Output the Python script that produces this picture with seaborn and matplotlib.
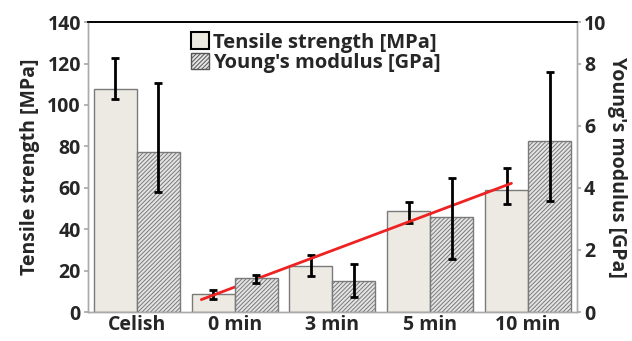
import numpy as np
import pandas as pd
import matplotlib
matplotlib.use("Agg")
import matplotlib.pyplot as plt
import seaborn as sns
from matplotlib.patches import Patch

samples = ["Celish", "0 min", "3 min", "5 min", "10 min"]
series = ["Tensile strength [MPa]", "Young's modulus [GPa]"]

tensile = [107.5, 8.6, 22.4, 49.0, 58.8]
tensile_lo = [102.7, 6.3, 17.4, 42.9, 52.2]
tensile_hi = [122.5, 10.7, 27.6, 53.0, 69.7]

young = [5.15, 1.11, 1.00, 3.05, 5.50]
young_lo = [3.87, 0.93, 0.49, 1.71, 3.58]
young_hi = [7.39, 1.19, 1.54, 4.31, 7.73]

right_ticks = [0, 2, 4, 6, 8, 140 / 15]
right_labels = ["0", "2", "4", "6", "8", "10"]

sns.set_theme(style="white")
plt.rcParams["font.family"] = ["Open Sans", "DejaVu Sans"]
plt.rcParams["font.weight"] = "bold"
plt.rcParams["hatch.color"] = "#555555"
plt.rcParams["hatch.linewidth"] = 0.7

rows = []
for i, s in enumerate(samples):
    rows.append({"sample": s, "series": series[0], "tensile": tensile[i], "young": np.nan})
    rows.append({"sample": s, "series": series[1], "tensile": np.nan, "young": young[i]})
df = pd.DataFrame(rows)

fig, ax = plt.subplots(figsize=(6.32, 3.41), dpi=100)
ax2 = ax.twinx()

sns.barplot(data=df, x="sample", y="tensile", hue="series", hue_order=series, order=samples,
            palette=["#EDEBE1", "#EDEBE1"], edgecolor="#7a7a7a", linewidth=1,
            width=0.88, errorbar=None, legend=False, ax=ax)
sns.barplot(data=df, x="sample", y="young", hue="series", hue_order=series, order=samples,
            palette=["#e4e4e4", "#e4e4e4"], edgecolor="#7a7a7a", linewidth=1,
            width=0.88, errorbar=None, legend=False, ax=ax2)
for p in ax2.patches:
    p.set_hatch("////////")

t_x = sorted(p.get_x() + p.get_width() / 2 for p in ax.patches if p.get_height() > 0)
y_x = sorted(p.get_x() + p.get_width() / 2 for p in ax2.patches if p.get_height() > 0)

t = np.array(tensile)
ax.errorbar(t_x, t, yerr=[t - np.array(tensile_lo), np.array(tensile_hi) - t],
            fmt="none", ecolor="black", elinewidth=2, capsize=3, capthick=2, zorder=5)
yv = np.array(young)
ax2.errorbar(y_x, yv, yerr=[yv - np.array(young_lo), np.array(young_hi) - yv],
             fmt="none", ecolor="black", elinewidth=2, capsize=3, capthick=2, zorder=5)

# linear trend of tensile strength over the treated samples
k, b = np.polyfit(t_x[1:], tensile[1:], 1)
xs = np.array([t_x[1] - 0.12, t_x[-1] + 0.05])
ax.plot(xs, k * xs + b, color="#ee2222", lw=2, zorder=6)

ax.set_xlim(-0.5, 4.5)
ax.set_ylim(0, 140)
ax.set_yticks(range(0, 141, 20))
ax2.set_ylim(0, 140 / 15)
ax2.set_yticks(right_ticks)
ax2.set_yticklabels(right_labels)

ax.set_xlabel("")
ax.set_ylabel("Tensile strength [MPa]", fontsize=14, fontweight="bold", labelpad=5)
ax2.set_ylabel("Young's modulus [GPa]", fontsize=14, fontweight="bold", rotation=270, labelpad=15)
for a in (ax, ax2):
    a.tick_params(axis="y", labelsize=14, length=3, color="#aaaaaa", pad=2)
    for lab in a.get_yticklabels():
        lab.set_fontweight("bold")
ax.tick_params(axis="x", labelsize=14, length=0, pad=2)
for lab in ax.get_xticklabels():
    lab.set_fontweight("bold")

for a in (ax, ax2):
    for side in ("left", "right", "bottom"):
        a.spines[side].set_color("#aaaaaa")
        a.spines[side].set_linewidth(1)
    a.spines["top"].set_color("black")
    a.spines["top"].set_linewidth(1.2)

handles = [Patch(facecolor="#EDEBE1", edgecolor="black", linewidth=1.5),
           Patch(facecolor="#e4e4e4", edgecolor="#555555", hatch="////////", linewidth=1)]
ax.legend(handles, series, loc="upper center", bbox_to_anchor=(0.466, 1.0), frameon=False,
          prop={"size": 14.5, "weight": "bold"}, handlelength=0.9, handleheight=0.9,
          handletextpad=0.2, labelspacing=0.0, borderaxespad=0.1)

fig.subplots_adjust(left=0.139, right=0.913, top=0.935, bottom=0.085)
fig.savefig("out.png", dpi=100)
